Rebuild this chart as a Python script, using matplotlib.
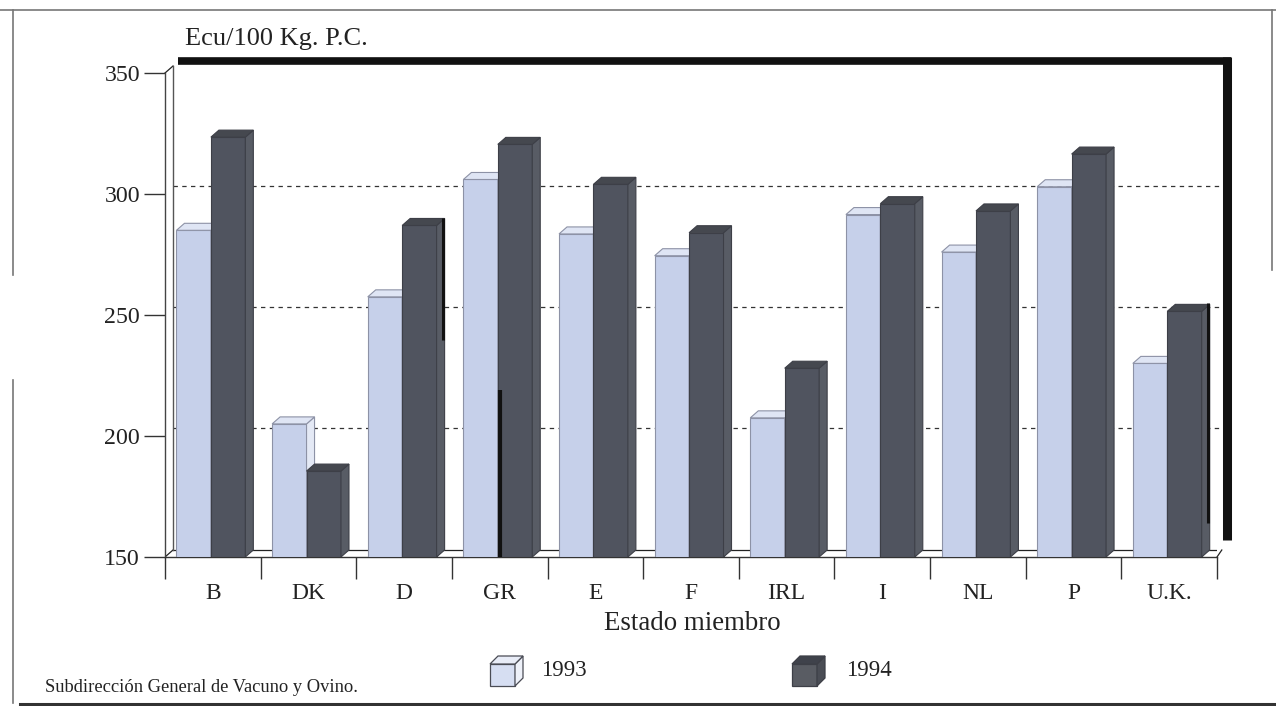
import numpy as np
import matplotlib
matplotlib.use("Agg")
import matplotlib.pyplot as plt
from matplotlib.lines import Line2D
from matplotlib.patches import Polygon

categories = ["B", "DK", "D", "GR", "E", "F", "IRL", "I", "NL", "P", "U.K."]
values_1993 = [285, 205, 257.5, 306, 283.5, 274.5, 207.5, 291.5, 276, 303, 230]
values_1994 = [323.5, 185.5, 287, 320.5, 304, 284, 228, 296, 293, 316.5, 251.5]
y_ticks = [150, 200, 250, 300, 350]
grid_values = [200, 250, 300]
series_names = ["1993", "1994"]

W, H = 1276, 706
plt.rcParams["font.family"] = ["Liberation Serif", "DejaVu Serif"]
fig = plt.figure(figsize=(W / 100, H / 100), dpi=100, facecolor="white")

def fx(p): return p / W
def fy(p): return 1 - p / H

L, R, T, B = 165, 1217, 73, 557
ax = fig.add_axes([fx(L), fy(B), (R - L) / W, (B - T) / H])
ax.set_xlim(-0.5, 10.5)
ax.set_ylim(150, 350)
ax.patch.set_alpha(0)

DX = 8 / ((R - L) / 11)          # depth in category units
DY = 7 / ((B - T) / 200)         # depth in value units
BW = 0.36
SHIFT = -0.02

LIGHT = ("#c6d0ea", "#e4e9f5", "#dfe5f4", "#8d92a6")
DARK = ("#50545f", "#585c65", "#45484f", "#3d3f47")

def bar3d(x, v, cols, z):
    face, side, top, edge = cols
    ax.bar(x, v - 150, BW, bottom=150, color=face, edgecolor=edge, linewidth=0.8, zorder=z)
    l, r = x - BW / 2, x + BW / 2
    ax.add_patch(Polygon([(r, 150), (r + DX, 150 + DY), (r + DX, v + DY), (r, v)],
                         closed=True, fc=side, ec=edge, lw=0.8, zorder=z))
    ax.add_patch(Polygon([(l, v), (l + DX, v + DY), (r + DX, v + DY), (r, v)],
                         closed=True, fc=top, ec=edge, lw=0.8, zorder=z))

# back wall grid, shifted by the depth
for g in grid_values:
    ax.plot([-0.5 + DX, 10.5 + DX * 0.4], [g + DY * 1.1, g + DY * 1.1], color="#333333",
            lw=0.9, dashes=(3.5, 3.5), zorder=1, clip_on=False)

# floor and wall edges
ax.plot([-0.5, -0.5 + DX], [150, 150 + DY], color="#222222", lw=0.9, zorder=1)
ax.plot([10.5, 10.5 + DX * 0.6], [150, 150 + DY], color="#222222", lw=0.9, zorder=1, clip_on=False)
ax.plot([-0.5, -0.5 + DX], [350, 350 + DY], color="#222222", lw=0.9, zorder=1, clip_on=False)
ax.plot([-0.5 + DX, 10.5 + DX * 0.5], [150 + DY, 150 + DY], color="#222222", lw=0.9, zorder=1)
ax.plot([-0.5 + DX, -0.5 + DX], [150 + DY, 350 + DY], color="#555555", lw=1.0, zorder=1, clip_on=False)

x = np.arange(len(categories))
for i in x:
    bar3d(i + SHIFT - BW / 2, values_1993[i], LIGHT, 3 + 2 * i)
    bar3d(i + SHIFT + BW / 2, values_1994[i], DARK, 4 + 2 * i)

for s in ("top", "right"):
    ax.spines[s].set_visible(False)
ax.spines["left"].set_color("#444444")
ax.spines["bottom"].set_color("#333333")
ax.spines["left"].set_linewidth(1.0)
ax.spines["bottom"].set_linewidth(1.0)

ax.set_yticks(y_ticks)
ax.set_xticks(x)
ax.set_xticklabels(categories)
ax.set_xticks(np.arange(-0.5, 11, 1), minor=True)
ax.tick_params(axis="y", length=15, width=1, color="#333333", labelsize=17.2, pad=3, labelcolor="#222222")
ax.tick_params(axis="x", which="major", length=0, labelsize=17, pad=18.5, labelcolor="#222222")
ax.tick_params(axis="x", which="minor", length=16, width=1, color="#333333")
ax.set_xlabel("Estado miembro", fontsize=19.4, color="#222222")
ax.xaxis.set_label_coords((692 - L) / (R - L), -(611 - B) / (B - T))

fig.text(fx(185), fy(39), "Ecu/100 Kg. P.C.", fontsize=19, color="#222222", va="center", ha="left")
fig.text(fx(45), fy(688), "Subdirección General de Vacuno y Ovino.", fontsize=13.3, color="#222222", va="center", ha="left")

# heavy frame and scan border
def pxline(xs, ys, **kw):
    fig.add_artist(Line2D([fx(p) for p in xs], [fy(p) for p in ys], transform=fig.transFigure, **kw))

pxline([178, 1231], [61, 61], color="#111111", lw=5.5, solid_capstyle="butt")
pxline([1227, 1227], [57, 540], color="#111111", lw=6.5, solid_capstyle="butt")
pxline([1208, 1208], [303, 523], color="#111111", lw=2.2, solid_capstyle="butt", zorder=20)
pxline([443, 443], [218, 340], color="#111111", lw=2.2, solid_capstyle="butt", zorder=20)
pxline([500, 500], [390, 557], color="#111111", lw=3, solid_capstyle="butt", zorder=20)
pxline([0, 1276], [10, 10], color="#777777", lw=1.2)
pxline([13, 13], [10, 275], color="#777777", lw=1.2)
pxline([13, 13], [380, 703], color="#777777", lw=1.2)
pxline([1272, 1272], [10, 270], color="#777777", lw=1.2)
pxline([20, 1276], [704, 704], color="#333333", lw=2.2)

# legend cubes
lg = fig.add_axes([0, 0, 1, 1], zorder=5)
lg.set_xlim(0, W)
lg.set_ylim(H, 0)
lg.axis("off")
def cube(x0, cols, edge):
    face, side, top = cols
    y0, w, h, d = 664, 25, 22, 8
    lg.add_patch(Polygon([(x0, y0), (x0 + w, y0), (x0 + w, y0 + h), (x0, y0 + h)], fc=face, ec=edge, lw=0.9))
    lg.add_patch(Polygon([(x0 + w, y0), (x0 + w + d, y0 - 8), (x0 + w + d, y0 + h - 8), (x0 + w, y0 + h)], fc=side, ec=edge, lw=0.9))
    lg.add_patch(Polygon([(x0, y0), (x0 + d, y0 - 8), (x0 + w + d, y0 - 8), (x0 + w, y0)], fc=top, ec=edge, lw=0.9))
cube(490, ("#d6def2", "#eef1f9", "#e8ecf7"), "#4a4c55")
cube(792, ("#595c63", "#4a4d55", "#3f424b"), "#3d3f47")
lg.text(541, 671, series_names[0], fontsize=16.5, color="#222222", va="center", ha="left")
lg.text(846, 671, series_names[1], fontsize=16.5, color="#222222", va="center", ha="left")

fig.savefig("out.png", dpi=100, facecolor="white")
